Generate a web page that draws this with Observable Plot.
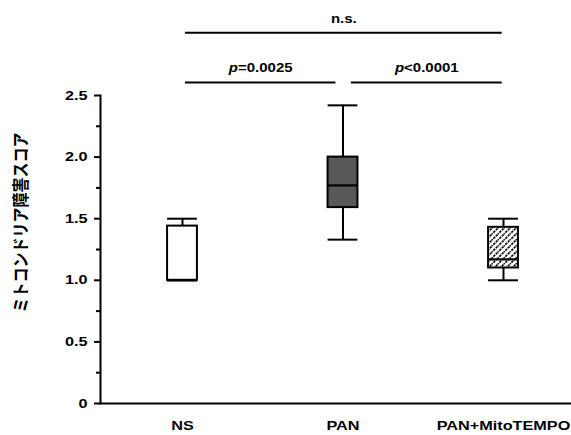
<!DOCTYPE html>
<html>
<head>
<meta charset="utf-8">
<script src="https://cdn.jsdelivr.net/npm/d3@7"></script>
<script src="https://cdn.jsdelivr.net/npm/@observablehq/plot@0.6"></script>
<style>
  html, body { margin: 0; padding: 0; background: #fff; }
  #chart svg { display: block; }
</style>
</head>
<body>
<div id="chart"></div>
<script>
// ---- data ----
const groups = ["NS", "PAN", "PAN+MitoTEMPO"];
const whiskerLow  = [1.00, 1.33, 1.00];
const quartile1   = [1.00, 1.59, 1.10];
const medians     = [1.00, 1.77, 1.17];
const quartile3   = [1.44, 2.00, 1.43];
const whiskerHigh = [1.50, 2.42, 1.50];
const yTicks = [0, 0.5, 1.0, 1.5, 2.0, 2.5];
const yMinorTicks = [0.25, 0.75, 1.25, 1.75, 2.25];
const yLabel = "ミトコンドリア障害スコア";
const comparisonFrom   = [0, 1, 0];
const comparisonTo     = [1, 2, 2];
const comparisonLabels = ["p=0.0025", "p<0.0001", "n.s."];

// ---- styles ----
const boxFills = ["white", "#585858", "url(#hatch)"];
const halfW = 0.093;
const bracketLevels = [2.605, 2.605, 3.01];
const FONT = "'Liberation Sans', Arial, 'Noto Sans CJK JP', sans-serif";

const boxes = groups.map((g, i) => ({
  i, g, lo: whiskerLow[i], q1: quartile1[i], med: medians[i], q3: quartile3[i], hi: whiskerHigh[i], fill: boxFills[i]
}));
const brackets = comparisonLabels.map((label, k) => {
  const a = comparisonFrom[k], b = comparisonTo[k];
  return {
    x1: a + (a === 1 ? 0.052 : 0.018),
    x2: b - (b === 1 ? 0.044 : 0.008),
    y: bracketLevels[k],
    label
  };
});

const chart = Plot.plot({
  width: 571,
  height: 435,
  marginLeft: 100,
  marginRight: 0,
  marginTop: 95,
  marginBottom: 32,
  style: {fontFamily: FONT, fontWeight: "bold", fontSize: "13px", color: "black", background: "white"},
  x: {type: "linear", domain: [0, 2], range: [182, 503]},
  y: {domain: [0, 2.5]},
  color: {type: "identity"},
  marks: [
    Plot.axisY(yTicks, {tickSize: 6, tickPadding: 7, strokeWidth: 2, fontSize: 13, fontWeight: "bold",
      tickFormat: d => d === 0 ? "0" : d.toFixed(1), label: null}),
    Plot.axisY(yMinorTicks, {tickSize: 4, strokeWidth: 2, tickFormat: () => "", label: null}),
    Plot.axisX([0, 1, 2], {tickSize: 0, tickPadding: 17, fontSize: 13, fontWeight: "bold",
      tickFormat: i => groups[i], label: null}),
    Plot.frame({anchor: "left", strokeWidth: 2}),
    Plot.ruleY([0], {strokeWidth: 2}),
    // whiskers
    Plot.ruleX(boxes, {x: "i", y1: "q3", y2: "hi", strokeWidth: 2}),
    Plot.ruleX(boxes, {x: "i", y1: "lo", y2: "q1", strokeWidth: 2}),
    // caps
    Plot.ruleY(boxes, {y: "hi", x1: d => d.i - halfW, x2: d => d.i + halfW, strokeWidth: 2}),
    Plot.ruleY(boxes, {y: "lo", x1: d => d.i - halfW, x2: d => d.i + halfW, strokeWidth: 2}),
    // boxes
    Plot.rect(boxes, {x1: d => d.i - halfW, x2: d => d.i + halfW, y1: "q1", y2: "q3", fill: "fill", stroke: "black", strokeWidth: 2}),
    // medians
    Plot.ruleY(boxes, {y: "med", x1: d => d.i - halfW, x2: d => d.i + halfW, strokeWidth: 2.2}),
    // comparison brackets
    Plot.ruleY(brackets, {y: "y", x1: "x1", x2: "x2", strokeWidth: 2}),
    Plot.text(brackets, {x: d => (d.x1 + d.x2) / 2, y: "y", text: "label", dy: -14, fontSize: 12, fontWeight: "bold", className: "cmp"}),
    // y label
    Plot.text([yLabel], {frameAnchor: "left", textAnchor: "middle", rotate: -90, dx: -79, dy: -27, fontSize: 15, fontWeight: "bold", className: "ylab"})
  ]
});

const svg = d3.select(chart.tagName.toLowerCase() === "svg" ? chart : chart.querySelector("svg"));
const defs = svg.insert("defs", ":first-child");
const pat = defs.append("pattern").attr("id", "hatch").attr("patternUnits", "userSpaceOnUse")
  .attr("width", 6).attr("height", 6);
pat.append("rect").attr("width", 6).attr("height", 6).attr("fill", "white");
pat.append("path").attr("d", "M-1,7 L7,-1 M-4,4 L4,-4 M2,10 L10,2")
  .attr("stroke", "black").attr("stroke-width", 1.6).attr("stroke-dasharray", "2.4,1");

// italic p in p-values
svg.selectAll(".cmp text").each(function() {
  const t = this.textContent;
  if (t.startsWith("p")) {
    const el = d3.select(this);
    el.text(null);
    el.append("tspan").attr("font-style", "italic").text("p");
    el.append("tspan").text(t.slice(1));
  }
});

// horizontal stretch of labels (reference glyphs are wide)
const S = 1.25;
svg.selectAll("text").each(function() {
  const tr = this.getAttribute("transform") || "";
  const rotated = !!this.closest(".ylab");
  this.setAttribute("transform", rotated ? `${tr} scale(1,1.15)` : `${tr} scale(${S},1)`);
});

document.getElementById("chart").appendChild(chart);
</script>
</body>
</html>
